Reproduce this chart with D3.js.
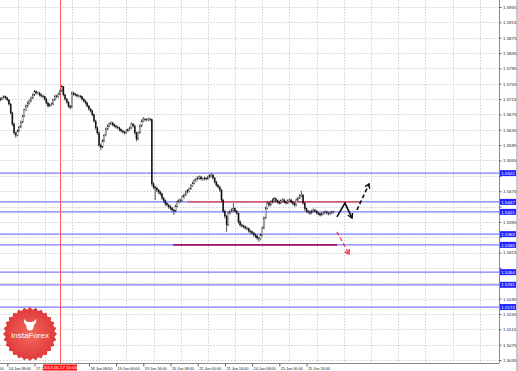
<!DOCTYPE html>
<html>
<head>
<meta charset="utf-8">
<script src="https://cdn.jsdelivr.net/npm/d3@7"></script>
<style>
  html, body { margin: 0; padding: 0; background: #fff; }
  svg { display: block; }
  text { font-family: "Liberation Sans", Arial, sans-serif; }
</style>
</head>
<body>
<svg id="chart" width="518" height="371"></svg>
<script>
// GBPUSD H1, 14 Jun 04:00 -> 26 Jun 08:00 (bar 0 = 14 Jun 04:00)
var firstOpen = 1.5713;
var closes = [
  1.5715,1.5718,1.5721,1.5718,1.5713,1.5702,1.5679,1.5650,1.5627,1.5621,
  1.5632,1.5642,1.5655,1.5671,1.5687,1.5697,1.5705,1.5710,1.5718,1.5726,
  1.5734,1.5731,1.5731,1.5726,1.5723,1.5721,1.5715,1.5705,1.5697,1.5700,
  1.5702,1.5713,1.5723,1.5721,1.5728,1.5736,1.5747,1.5726,1.5715,1.5707,
  1.5697,1.5694,1.5731,1.5728,1.5726,1.5723,1.5723,1.5721,1.5715,1.5710,
  1.5705,1.5697,1.5689,1.5684,1.5674,1.5658,1.5640,1.5627,1.5595,1.5590,
  1.5606,1.5621,1.5637,1.5645,1.5650,1.5653,1.5648,1.5645,1.5642,1.5640,
  1.5635,1.5632,1.5629,1.5627,1.5632,1.5635,1.5640,1.5650,1.5645,1.5627,
  1.5611,1.5627,1.5645,1.5658,1.5663,1.5661,1.5661,1.5663,1.5661,1.5494,
  1.5486,1.5483,1.5478,1.5473,1.5468,1.5457,1.5450,1.5442,1.5439,1.5434,
  1.5431,1.5426,1.5423,1.5436,1.5447,1.5452,1.5450,1.5460,1.5465,1.5473,
  1.5476,1.5481,1.5489,1.5496,1.5502,1.5507,1.5509,1.5512,1.5507,1.5507,
  1.5509,1.5507,1.5512,1.5515,1.5517,1.5509,1.5499,1.5491,1.5486,1.5478,
  1.5452,1.5423,1.5410,1.5387,1.5418,1.5423,1.5426,1.5429,1.5423,1.5418,
  1.5395,1.5387,1.5384,1.5382,1.5379,1.5377,1.5371,1.5369,1.5366,1.5361,
  1.5358,1.5353,1.5351,1.5361,1.5379,1.5405,1.5431,1.5444,1.5439,1.5447,
  1.5452,1.5455,1.5450,1.5447,1.5444,1.5450,1.5452,1.5447,1.5444,1.5450,
  1.5452,1.5447,1.5442,1.5439,1.5452,1.5457,1.5463,1.5465,1.5444,1.5429,
  1.5423,1.5421,1.5418,1.5423,1.5426,1.5423,1.5418,1.5416,1.5413,1.5416,
  1.5418,1.5421,1.5418,1.5416,1.5418,1.5421,1.5421
];
var highs = [
  1.5719,1.5721,1.5725,1.5724,1.5720,1.5715,1.5705,1.5682,1.5654,1.5630,
  1.5636,1.5646,1.5659,1.5674,1.5690,1.5701,1.5709,1.5714,1.5722,1.5730,
  1.5739,1.5737,1.5735,1.5734,1.5729,1.5727,1.5724,1.5718,1.5708,1.5704,
  1.5706,1.5716,1.5727,1.5726,1.5732,1.5740,1.5752,1.5749,1.5729,1.5718,
  1.5710,1.5700,1.5735,1.5734,1.5731,1.5729,1.5727,1.5726,1.5724,1.5718,
  1.5713,1.5708,1.5700,1.5692,1.5687,1.5677,1.5661,1.5644,1.5630,1.5599,
  1.5610,1.5625,1.5641,1.5649,1.5654,1.5657,1.5656,1.5651,1.5648,1.5646,
  1.5643,1.5638,1.5635,1.5632,1.5636,1.5639,1.5644,1.5654,1.5653,1.5648,
  1.5630,1.5631,1.5649,1.5662,1.5668,1.5666,1.5665,1.5667,1.5666,1.5664,
  1.5498,1.5490,1.5487,1.5481,1.5476,1.5471,1.5460,1.5453,1.5446,1.5442,
  1.5438,1.5434,1.5429,1.5440,1.5451,1.5456,1.5455,1.5464,1.5469,1.5477,
  1.5480,1.5485,1.5493,1.5500,1.5506,1.5511,1.5514,1.5516,1.5515,1.5511,
  1.5513,1.5512,1.5516,1.5519,1.5522,1.5520,1.5512,1.5502,1.5494,1.5489,
  1.5481,1.5455,1.5427,1.5413,1.5422,1.5427,1.5431,1.5444,1.5432,1.5426,
  1.5418,1.5399,1.5391,1.5388,1.5386,1.5383,1.5380,1.5375,1.5372,1.5369,
  1.5365,1.5362,1.5356,1.5365,1.5383,1.5409,1.5435,1.5449,1.5447,1.5451,
  1.5456,1.5460,1.5458,1.5453,1.5450,1.5454,1.5457,1.5455,1.5450,1.5454,
  1.5456,1.5455,1.5450,1.5445,1.5456,1.5461,1.5467,1.5476,1.5468,1.5447,
  1.5432,1.5426,1.5425,1.5427,1.5430,1.5429,1.5426,1.5421,1.5419,1.5420,
  1.5422,1.5425,1.5424,1.5421,1.5422,1.5425,1.5424
];
var lows = [
  1.5710,1.5712,1.5716,1.5714,1.5709,1.5698,1.5675,1.5645,1.5622,1.5614,
  1.5618,1.5629,1.5639,1.5652,1.5668,1.5684,1.5693,1.5701,1.5707,1.5715,
  1.5723,1.5727,1.5727,1.5722,1.5719,1.5717,1.5711,1.5701,1.5693,1.5694,
  1.5697,1.5699,1.5710,1.5717,1.5718,1.5725,1.5733,1.5722,1.5711,1.5703,
  1.5692,1.5688,1.5691,1.5724,1.5722,1.5719,1.5719,1.5717,1.5711,1.5706,
  1.5701,1.5693,1.5685,1.5680,1.5670,1.5653,1.5635,1.5622,1.5590,1.5582,
  1.5587,1.5603,1.5618,1.5634,1.5642,1.5647,1.5644,1.5641,1.5638,1.5636,
  1.5631,1.5628,1.5625,1.5622,1.5624,1.5629,1.5632,1.5637,1.5641,1.5622,
  1.5605,1.5608,1.5624,1.5642,1.5655,1.5657,1.5657,1.5658,1.5657,1.5488,
  1.5480,1.5452,1.5472,1.5468,1.5463,1.5452,1.5445,1.5437,1.5434,1.5429,
  1.5426,1.5421,1.5413,1.5420,1.5433,1.5443,1.5446,1.5447,1.5456,1.5462,
  1.5469,1.5472,1.5478,1.5486,1.5493,1.5498,1.5503,1.5505,1.5503,1.5502,
  1.5503,1.5503,1.5504,1.5508,1.5511,1.5505,1.5495,1.5487,1.5482,1.5473,
  1.5447,1.5418,1.5404,1.5369,1.5384,1.5414,1.5419,1.5422,1.5419,1.5413,
  1.5390,1.5383,1.5380,1.5378,1.5375,1.5373,1.5367,1.5364,1.5361,1.5356,
  1.5353,1.5348,1.5343,1.5347,1.5358,1.5376,1.5402,1.5428,1.5434,1.5436,
  1.5443,1.5448,1.5446,1.5443,1.5440,1.5441,1.5447,1.5443,1.5440,1.5441,
  1.5447,1.5443,1.5438,1.5434,1.5436,1.5449,1.5454,1.5459,1.5440,1.5424,
  1.5419,1.5416,1.5413,1.5415,1.5420,1.5419,1.5414,1.5412,1.5409,1.5410,
  1.5413,1.5415,1.5414,1.5412,1.5413,1.5415,1.5417
];

var priceTicks = [1.5955,1.5915,1.5875,1.5835,1.5795,1.5755,1.5715,1.5675,1.5635,1.5595,
  1.5555,1.5515,1.5475,1.5435,1.5395,1.5355,1.5315,1.5275,1.5235,1.5195,1.5155,1.5115,1.5075,1.5035];
var timeTickBars = [-12, 4, 20, 52, 68, 84, 100, 116, 132, 148, 164, 180];
var timeTickLabels = ["13 Jun 16:00","14 Jun 08:00","17 Jun 00:00","18 Jun 08:00",
  "19 Jun 00:00","19 Jun 16:00","20 Jun 08:00","21 Jun 00:00","21 Jun 16:00",
  "24 Jun 08:00","25 Jun 00:00","25 Jun 16:00"];

// horizontal levels (blue), drawn lines and arrows
var levels = [1.5522, 1.5447, 1.5421, 1.5363, 1.5335, 1.5264, 1.5231, 1.5173];
var resistance = { from: 110, to: 211.5, price: 1.5447 };
var support = { from: 101.5, to: 198, price: 1.5335 };
var markerBar = 35, markerLabel = "2013.06.17 15:00";
var upPath = [[197.9, 1.5408], [202.6, 1.5444], [206.8, 1.5405]];
var upDash = [[209.7, 1.5426], [216.8, 1.5494]];
var downDash = [[197.9, 1.5369], [205.0, 1.5311]];
//===============================End of Data===========================

var svg = d3.select("#chart");
var plotRight = 499, plotBottom = 363;

var x = d3.scaleLinear().domain([0, 196]).range([0.5, 333.7]);
var y = d3.scaleLinear().domain([1.5035, 1.5955]).range([360, 7]);

var bars = closes.map(function(c, i) {
  return { i: i, o: i === 0 ? firstOpen : closes[i - 1], c: c, h: highs[i], l: lows[i] };
});

var defs = svg.append("defs");
defs.append("clipPath").attr("id", "plotClip")
  .append("rect").attr("x", 0).attr("y", 0).attr("width", plotRight).attr("height", plotBottom);

var plot = svg.append("g").attr("clip-path", "url(#plotClip)");

//=============Grid
plot.append("g").selectAll("line").data(priceTicks).enter().append("line")
  .attr("x1", 0).attr("x2", plotRight)
  .attr("y1", d => Math.round(y(d)) + 0.5).attr("y2", d => Math.round(y(d)) + 0.5)
  .attr("stroke", "#c8c8c8").attr("stroke-width", 0.8).attr("stroke-dasharray", "1.5,1.5");

plot.append("g").selectAll("line").data(d3.range(10, 300, 16)).enter().append("line")
  .attr("x1", d => Math.round(x(d)) + 0.5).attr("x2", d => Math.round(x(d)) + 0.5)
  .attr("y1", 0).attr("y2", plotBottom)
  .attr("stroke", "#c8c8c8").attr("stroke-width", 0.8).attr("stroke-dasharray", "1.5,1.5");

//=============Levels
plot.append("g").selectAll("line").data(levels).enter().append("line")
  .attr("x1", 0).attr("x2", plotRight)
  .attr("y1", d => y(d)).attr("y2", d => y(d))
  .attr("stroke", "#7b7bff").attr("stroke-width", 1.2);

plot.append("line")
  .attr("x1", x(resistance.from)).attr("x2", x(resistance.to))
  .attr("y1", y(resistance.price)).attr("y2", y(resistance.price))
  .attr("stroke", "#e8413c").attr("stroke-width", 1.4);
plot.append("line")
  .attr("x1", x(support.from)).attr("x2", x(support.to))
  .attr("y1", y(support.price)).attr("y2", y(support.price))
  .attr("stroke", "#a3165e").attr("stroke-width", 1.6);

//=============Marker line
plot.append("line")
  .attr("x1", Math.round(x(markerBar)) + 0.5).attr("x2", Math.round(x(markerBar)) + 0.5)
  .attr("y1", 0).attr("y2", plotBottom)
  .attr("stroke", "#ff5a5a").attr("stroke-width", 1);

//=============Candles
var candles = plot.append("g");
candles.selectAll("line").data(bars).enter().append("line")
  .attr("x1", d => x(d.i)).attr("x2", d => x(d.i))
  .attr("y1", d => y(d.h)).attr("y2", d => y(d.l))
  .attr("stroke", "#111").attr("stroke-width", 0.7);
candles.selectAll("rect").data(bars).enter().append("rect")
  .attr("x", d => x(d.i) - 0.6).attr("width", 1.2)
  .attr("y", d => y(Math.max(d.o, d.c)))
  .attr("height", d => Math.max(0.6, Math.abs(y(d.o) - y(d.c))))
  .attr("fill", d => d.c >= d.o ? "#fff" : "#111")
  .attr("stroke", "#111").attr("stroke-width", 0.3);

//=============Arrows
function arrowHead(p0, p1, color) {
  var a = Math.atan2(y(p1[1]) - y(p0[1]), x(p1[0]) - x(p0[0]));
  var tx = x(p1[0]), ty = y(p1[1]), len = 5;
  var pts = [[tx + len * Math.cos(a + 2.6), ty + len * Math.sin(a + 2.6)], [tx, ty],
             [tx + len * Math.cos(a - 2.6), ty + len * Math.sin(a - 2.6)]];
  plot.append("path").attr("d", d3.line()(pts))
    .attr("fill", "none").attr("stroke", color).attr("stroke-width", 1.4);
}
var priceLine = d3.line().x(d => x(d[0])).y(d => y(d[1]));

plot.append("path").attr("d", priceLine(upPath))
  .attr("fill", "none").attr("stroke", "#111").attr("stroke-width", 1.6);
arrowHead(upPath[1], upPath[2], "#111");
plot.append("path").attr("d", priceLine(upDash))
  .attr("fill", "none").attr("stroke", "#111").attr("stroke-width", 1.6).attr("stroke-dasharray", "4,2.5");
arrowHead(upDash[0], upDash[1], "#111");
plot.append("path").attr("d", priceLine(downDash))
  .attr("fill", "none").attr("stroke", "#f0303a").attr("stroke-width", 1.2).attr("stroke-dasharray", "4,2.5");
arrowHead(downDash[0], downDash[1], "#f0303a");

//=============Logo
var logo = svg.append("g").attr("transform", "translate(30,334)");
var starPts = d3.range(56).map(function(k) {
  var r = k % 2 === 0 ? 27 : 24.5, a = k / 56 * Math.PI * 2;
  return [r * Math.sin(a), -r * Math.cos(a)];
});
var grad = defs.append("radialGradient").attr("id", "logoGrad");
grad.append("stop").attr("offset", "0%").attr("stop-color", "#f26a5d");
grad.append("stop").attr("offset", "100%").attr("stop-color", "#e0383a");
logo.append("path").attr("d", d3.line()(starPts) + "Z").attr("fill", "url(#logoGrad)");
logo.append("path")
  .attr("d", "M-4,-9 q-3,-3 -2,-6 q2,3 4,3 h4 q2,0 4,-3 q1,3 -2,6 l-1,4 q-3,3 -6,0 z")
  .attr("fill", "#fff");
logo.append("text").attr("x", 0).attr("y", 4).attr("text-anchor", "middle")
  .attr("fill", "#fff").style("font-size", "8px").text("InstaForex");

//=============Axes
svg.append("rect").attr("x", 516).attr("y", 0).attr("width", 2).attr("height", 371).attr("fill", "#c8c8c8");

var yAxis = svg.append("g")
  .attr("transform", `translate(${plotRight + 0.5},0)`)
  .call(d3.axisRight(y).tickValues(priceTicks).tickSize(2).tickPadding(1.5).tickFormat(d3.format(".4f")));
yAxis.select(".domain").attr("stroke", "#888").attr("d", `M0,0V${plotBottom}`);
yAxis.selectAll(".tick line").attr("stroke", "#666");
yAxis.selectAll(".tick text").style("font-size", "4.4px").attr("fill", "#222")
  // price labels hidden behind a level tag are not drawn
  .attr("display", d => levels.some(l => Math.abs(y(l) - y(d)) < 5) ? "none" : null);

var xAxis = svg.append("g")
  .attr("transform", `translate(0,${plotBottom + 0.5})`)
  .call(d3.axisBottom(x).tickValues(timeTickBars).tickSize(3).tickPadding(1)
    .tickFormat((d, k) => timeTickLabels[k]));
xAxis.select(".domain").attr("stroke", "#888").attr("d", `M0,0H${plotRight}`);
xAxis.selectAll(".tick line").attr("stroke", "#666");
xAxis.selectAll(".tick text").style("font-size", "4px").style("letter-spacing", "-0.1px").attr("fill", "#222")
  .attr("text-anchor", "start").attr("x", 1).attr("dy", "0.5em");

// level labels
var tags = svg.append("g").selectAll("g").data(levels).enter().append("g")
  .attr("transform", d => `translate(${plotRight + 1},${y(d)})`);
tags.append("rect").attr("x", 0).attr("y", -3).attr("width", 16).attr("height", 6).attr("fill", "#2323ff");
tags.append("text").attr("x", 8).attr("y", 1.6).attr("text-anchor", "middle")
  .attr("fill", "#fff").style("font-size", "4.4px").text(d => d3.format(".4f")(d));

// marker time label
var mx = x(markerBar);
svg.append("rect").attr("x", mx - 17).attr("y", plotBottom + 1.5).attr("width", 34).attr("height", 6).attr("fill", "#ff1010");
svg.append("text").attr("x", mx).attr("y", plotBottom + 6).attr("text-anchor", "middle")
  .attr("fill", "#fff").style("font-size", "4.4px").text(markerLabel);
</script>
</body>
</html>
